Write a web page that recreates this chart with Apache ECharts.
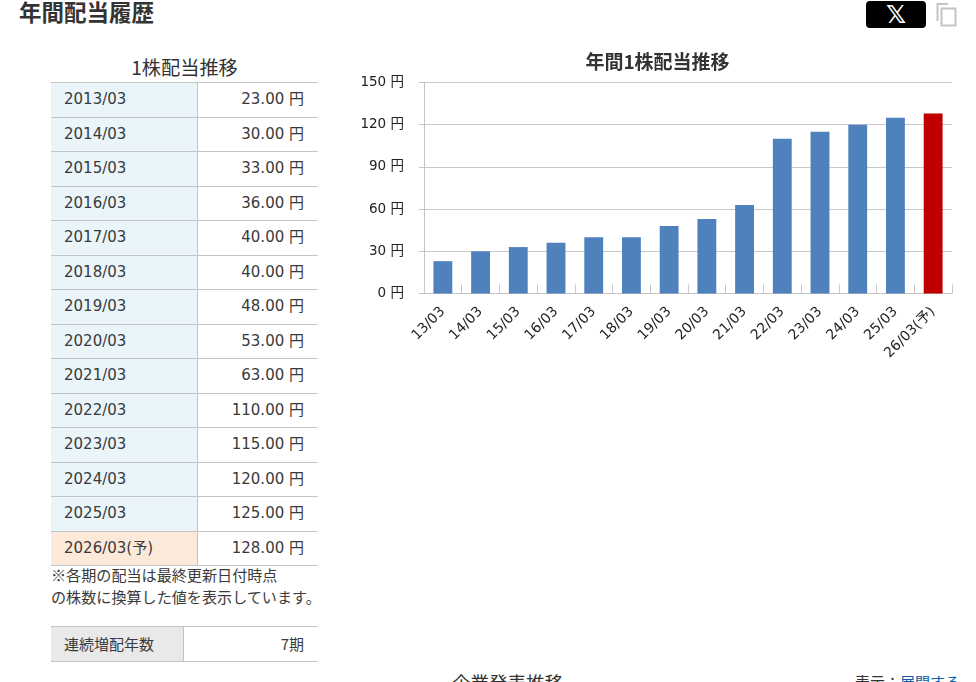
<!DOCTYPE html>
<html lang="ja"><head><meta charset="utf-8">
<script src="https://cdn.jsdelivr.net/npm/echarts@6/dist/echarts.min.js"></script>
<style>
html,body{margin:0;padding:0;width:976px;height:682px;overflow:hidden;background:#fff;color:#333;font-family:"DejaVu Sans","Noto Sans CJK JP",sans-serif}
.a{position:absolute;white-space:nowrap}
#rows{position:absolute;left:51px;top:82px;width:267px}
.row{position:absolute;left:0;width:267px;box-sizing:border-box;border-top:1px solid #c4c4c4;font-size:15px;color:#3a3a3a}
.row .k{position:absolute;left:0;top:0;bottom:0;background:#e9f5f9;border-right:1px solid #c4c4c4;padding-left:13px;width:133px}
.row .v{position:absolute;right:14px;top:0}
.jp{font-family:"Noto Sans CJK JP",sans-serif}
</style></head><body>
<div class="a jp" style="left:19px;top:-5px;font-size:22.500px;font-weight:700;color:#333">年間配当履歴</div>
<div class="a" style="left:866px;top:1px;width:60px;height:27px;background:#000;border-radius:4px;color:#fff;font-size:25px;font-weight:700;line-height:27px;text-align:center">𝕏</div>
<svg class="a" style="left:935px;top:2px" width="24" height="26" viewBox="0 0 24 26" fill="none" stroke="#c4c4c4" stroke-width="2"><path d="M2.500 19V2H13"/><rect x="6.500" y="6.500" width="14" height="17"/></svg>
<div class="a jp" style="left:51px;top:53px;width:267px;text-align:center;font-size:19.200px;color:#333">1株配当推移</div>
<div id="rows"></div>
<div class="a jp" style="left:51px;top:564px;font-size:15.100px;line-height:21.500px;color:#3a3a3a">※各期の配当は最終更新日付時点<br>の株数に換算した値を表示しています。</div>
<div class="a" style="left:51px;top:626px;width:267px;height:34px;border-top:1px solid #c4c4c4;border-bottom:1px solid #c4c4c4;font-size:15px;color:#3a3a3a">
 <div class="jp" style="position:absolute;left:0;top:0;bottom:0;width:133px;background:#e9e9e9;border-right:1px solid #c4c4c4;padding-left:13px;line-height:33px;box-sizing:border-box">連続増配年数</div>
 <div class="jp" style="position:absolute;right:14px;top:0;line-height:33px">7期</div>
</div>
<div class="a jp" style="left:452px;top:670px;font-size:18.500px;line-height:24px">企業発表推移</div>
<div class="a jp" style="left:855px;top:672px;font-size:15px;line-height:20px">表示：<span style="color:#0b5ea8">展開する</span></div>
<div id="chart" style="position:absolute;left:340px;top:40px;width:636px;height:340px"></div>
<script>
const tableLabels=["2013/03","2014/03","2015/03","2016/03","2017/03","2018/03","2019/03","2020/03","2021/03","2022/03","2023/03","2024/03","2025/03","2026/03(予)"];
const categories=["13/03","14/03","15/03","16/03","17/03","18/03","19/03","20/03","21/03","22/03","23/03","24/03","25/03","26/03(予)"];
const dividends=[23,30,33,36,40,40,48,53,63,110,115,120,125,128];
const forecastIndex=13;
const yTicks={min:0,max:150,interval:30};

const rows=document.getElementById('rows');
const rowH=34.5;
dividends.forEach((v,i)=>{
  const r=document.createElement('div');
  r.className='row';
  r.style.top=(i*rowH)+'px';
  r.style.height=(rowH+1)+'px';
  r.style.lineHeight=(rowH-2)+'px';
  const k=document.createElement('div');k.className='k';k.textContent=tableLabels[i];
  if(i===forecastIndex)k.style.background='#fde9da';
  const t=document.createElement('div');t.className='v';t.textContent=v.toFixed(2)+' 円';
  r.append(k,t);rows.append(r);
});
const bottom=document.createElement('div');
bottom.style.cssText='position:absolute;left:0;width:267px;border-top:1px solid #c4c4c4;top:'+(14*rowH)+'px';
rows.append(bottom);

const chart=echarts.init(document.getElementById('chart'),null,{renderer:'canvas'});
const font='"DejaVu Sans","Noto Sans CJK JP",sans-serif';
chart.setOption({
  animation:false,
  title:{text:'年間1株配当推移',left:312.500,top:7,textAlign:'center',textStyle:{fontSize:19,fontWeight:'bold',color:'#333',fontFamily:'"Noto Sans CJK JP",sans-serif'}},
  grid:{left:84,top:42.500,width:528,height:211,containLabel:false},
  xAxis:{type:'category',data:categories,
    axisLine:{lineStyle:{color:'#c4c4c4',width:1}},
    axisTick:{show:true,inside:true,length:9,alignWithLabel:false,lineStyle:{color:'#c8c8c8'}},
    axisLabel:{rotate:45,interval:0,margin:16,fontSize:14,color:'#222',fontFamily:font}},
  yAxis:{type:'value',min:yTicks.min,max:yTicks.max,interval:yTicks.interval,
    axisLine:{show:true,lineStyle:{color:'#c4c4c4',width:1}},
    axisTick:{show:true,length:5,lineStyle:{color:'#c4c4c4'}},
    splitLine:{lineStyle:{color:'#c8c8c8',width:1}},
    axisLabel:{margin:20,fontSize:13.500,padding:[6,0,0,0],color:'#222',fontFamily:font,formatter:'{value} 円'}},
  series:[{type:'bar',barWidth:'50%',
    data:dividends.map((v,i)=>({value:v,itemStyle:{color:i===forecastIndex?'#c00000':'#4f81bd'}}))}]
});
</script>
</body></html>
